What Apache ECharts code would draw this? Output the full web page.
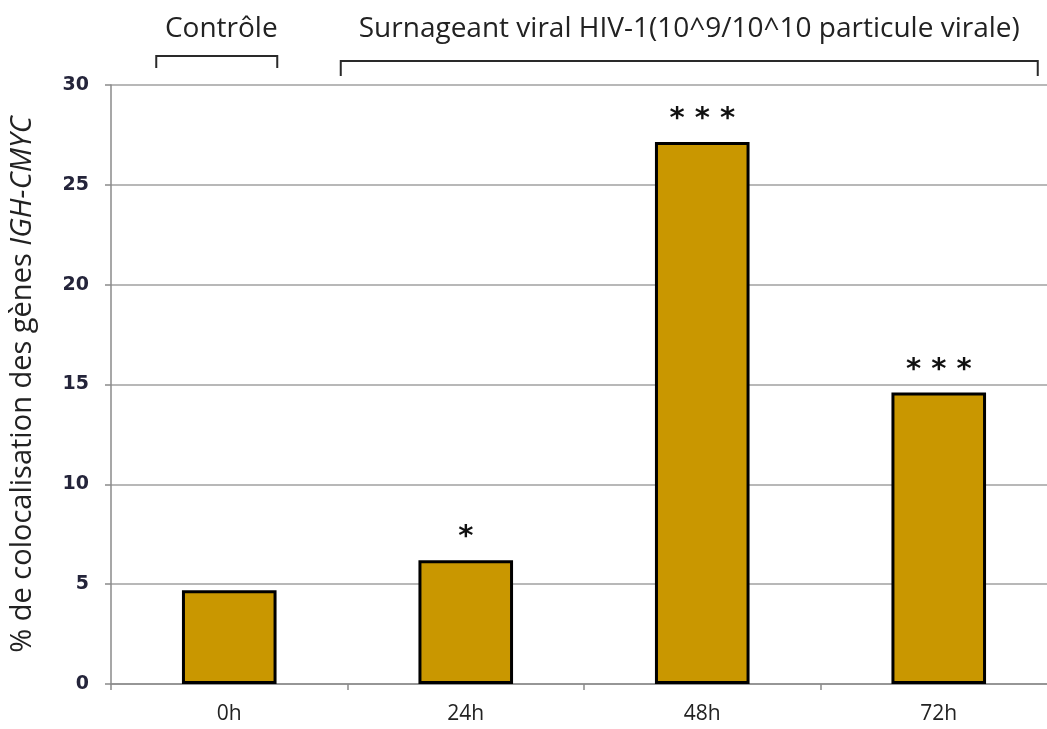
<!DOCTYPE html>
<html><head><meta charset="utf-8">
<script src="https://cdn.jsdelivr.net/npm/echarts@6/dist/echarts.min.js"></script>
<style>html,body{margin:0;padding:0;background:#fff}#c{width:1047px;height:729px}</style>
</head><body><div id="c"></div>
<script>
var categories = ['0h', '24h', '48h', '72h'];
var values = [4.7, 6.2, 27.15, 14.6];
var stars = ['', '*', '* * *', '* * *'];
var yTicks = [0, 5, 10, 15, 20, 25, 30];
var groupLabels = ['Contrôle', 'Surnageant viral HIV-1(10^9/10^10 particule virale)'];

var sans = '"Open Sans", sans-serif';
var chart = echarts.init(document.getElementById('c'));
chart.setOption({
  animation: false,
  grid: {left: 111, width: 946, top: 85, height: 599, outerBoundsMode: 'none', containLabel: false},
  xAxis: {
    type: 'category', data: categories,
    axisLine: {lineStyle: {color: '#8a8a8a', width: 1.5}},
    axisTick: {show: true, length: 6, lineStyle: {color: '#8a8a8a', width: 1.5}},
    axisLabel: {color: '#222', fontFamily: sans, fontSize: 21, margin: 20}
  },
  yAxis: {
    type: 'value', min: yTicks[0], max: yTicks[yTicks.length - 1], interval: 5,
    axisLine: {show: true, lineStyle: {color: '#8a8a8a', width: 1.5}},
    axisTick: {show: true, length: 6, lineStyle: {color: '#8a8a8a', width: 1.5}},
    splitLine: {lineStyle: {color: '#a0a0a0', width: 1.5}},
    axisLabel: {color: '#24243a', fontFamily: 'DejaVu Sans', fontWeight: 'bold', fontSize: 19, margin: 22},
    name: '% de colocalisation des gènes {i|IGH-CMYC}',
    nameLocation: 'middle', nameRotate: 90, nameGap: 74,
    nameTextStyle: {color: '#222', fontFamily: sans, fontSize: 29,
      rich: {i: {fontStyle: 'italic', fontFamily: sans, fontSize: 29, color: '#222'}}}
  },
  series: [{
    type: 'bar', data: values, barWidth: '40%',
    itemStyle: {color: '#C99700', borderColor: '#000', borderWidth: 3},
    label: {show: true, position: 'top', distance: 8,
      formatter: function (p) { return stars[p.dataIndex]; },
      color: '#111', fontFamily: 'DejaVu Sans', fontWeight: 'bold', fontSize: 29}
  }]
});

function px(i) { return chart.convertToPixel({xAxisIndex: 0}, categories[i]); }
var c0 = px(0), c1 = px(1), c3 = px(3);
function bracket(x1, x2, y, h) {
  return {type: 'polyline', shape: {points: [[x1, y + h], [x1, y], [x2, y], [x2, y + h]]},
    style: {stroke: '#2a2a2a', lineWidth: 2, fill: null}};
}
var bigL = c1 - 125, bigR = c3 + 99;
chart.setOption({graphic: [
  bracket(c0 - 73, c0 + 48, 56, 12),
  bracket(bigL, bigR, 61, 15),
  {type: 'text', x: c0 - 8, y: 29, style: {text: groupLabels[0], fill: '#222', font: '28px ' + sans, align: 'center', verticalAlign: 'middle'}},
  {type: 'text', x: (bigL + bigR) / 2, y: 29, style: {text: groupLabels[1], fill: '#222', font: '28px ' + sans, align: 'center', verticalAlign: 'middle'}}
]});
</script></body></html>
